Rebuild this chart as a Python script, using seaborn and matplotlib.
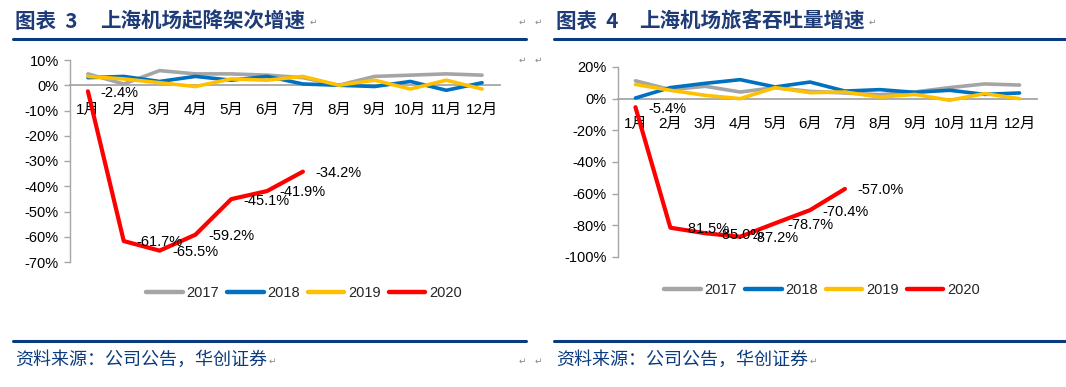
import matplotlib
matplotlib.use("Agg")
import matplotlib.pyplot as plt
from matplotlib.lines import Line2D
import seaborn as sns
import pandas as pd

sns.set_theme(style="white")
plt.rcParams['font.family'] = ['Liberation Sans', 'Noto Sans CJK SC', 'DejaVu Sans']

# 数据
months = ["1月", "2月", "3月", "4月", "5月", "6月", "7月", "8月", "9月", "10月", "11月", "12月"]
years = ["2017", "2018", "2019", "2020"]

# 图表3 起降架次增速 (%)
mov_2017 = [4.5, 0.5, 5.8, 4.5, 4.5, 4.0, 3.0, 0.0, 3.5, 4.0, 4.5, 4.0]
mov_2018 = [3.0, 3.5, 1.5, 3.5, 2.0, 3.5, 0.5, 0.0, -0.5, 1.5, -2.0, 1.0]
mov_2019 = [3.5, 2.5, 1.0, -0.5, 2.5, 2.0, 3.5, 0.0, 2.0, -1.5, 2.0, -1.5]
mov_2020 = [-2.4, -61.7, -65.5, -59.2, -45.1, -41.9, -34.2]

# 图表4 旅客吞吐量增速 (%)
pax_2017 = [11.3, 5.7, 7.8, 4.2, 7.0, 4.6, 3.6, 2.5, 4.2, 7.0, 9.3, 8.6]
pax_2018 = [0.4, 7.0, 9.7, 12.0, 7.4, 10.5, 4.8, 5.7, 4.0, 5.3, 2.7, 3.6]
pax_2019 = [9.0, 5.3, 2.1, 0.0, 7.0, 3.8, 4.2, 1.0, 2.7, -1.0, 3.2, 0.0]
pax_2020 = [-5.4, -81.5, -85.0, -87.2, -78.7, -70.4, -57.0]

colors = {"2017": "#A5A5A5", "2018": "#0070C0", "2019": "#FFC000", "2020": "#FF0000"}
navy = "#0B3B7F"
W, H = 1066, 387

fig = plt.figure(figsize=(W / 100, H / 100), dpi=100)


def fx(px):
    return px / W


def fy(py):
    return 1 - py / H


def draw_panel(ax, series, yticks):
    for yr, vals in zip(years, series):
        df = pd.DataFrame({"m": list(range(len(vals))), "v": vals})
        lw = 3.0 if yr == "2020" else 2.6
        sns.lineplot(data=df, x="m", y="v", ax=ax, color=colors[yr], linewidth=lw,
                     zorder=5 if yr == "2020" else 3, sort=False)
    # 2020 数据标签
    last = series[-1]
    for i, v in enumerate(last):
        ax.annotate(f"{v:.1f}%", (i, v), xytext=(9, -1), textcoords="offset points",
                    ha="left", va="center", fontsize=10.5, color="black", zorder=6)
    ax.set_xlim(-0.5, 11.5)
    ax.set_ylim(yticks[0], yticks[-1])
    ax.set_yticks(yticks)
    ax.set_yticklabels([f"{t}%" for t in yticks], fontsize=10.5)
    ax.set_xticks(range(12))
    ax.set_xticklabels(months, fontsize=10.5)
    ax.set_xlabel("")
    ax.set_ylabel("")
    for s in ["top", "right"]:
        ax.spines[s].set_visible(False)
    ax.spines["bottom"].set_position(("data", 0))
    ax.spines["bottom"].set_color("#A6A6A6")
    ax.spines["bottom"].set_linewidth(1.3)
    ax.spines["bottom"].set_zorder(2)
    ax.spines["left"].set_color("#A6A6A6")
    ax.spines["left"].set_linewidth(1.0)
    ax.tick_params(axis="x", length=0, pad=13, colors="black")
    ax.tick_params(axis="y", direction="out", length=4, width=1, color="#A6A6A6",
                   pad=4, left=True, labelcolor="black")
    ax.grid(False)
    ax.set_facecolor("none")


ax1 = fig.add_axes([fx(70), fy(262), fx(430), (262 - 60) / H])
draw_panel(ax1, [mov_2017, mov_2018, mov_2019, mov_2020], list(range(-70, 11, 10)))

ax2 = fig.add_axes([fx(618), fy(257), fx(419), (257 - 67) / H])
draw_panel(ax2, [pax_2017, pax_2018, pax_2019, pax_2020], list(range(-100, 21, 20)))

# 图例
handles = [Line2D([0], [0], color=colors[y], lw=3.2, solid_capstyle="round") for y in years]
for cx, cy in [(304, 293), (822, 290)]:
    fig.legend(handles, years, loc="center", bbox_to_anchor=(fx(cx), fy(cy)), ncol=4,
               frameon=False, fontsize=10.5, handlelength=2.5, handletextpad=0.25,
               columnspacing=0.55, borderaxespad=0, borderpad=0)

# 标题
title_kw = dict(fontsize=14.8, fontweight="bold", color="#1F3C78", va="center",
                family=["Noto Sans CJK SC", "DejaVu Sans"])
fig.text(fx(15), fy(21), "图表  3", **title_kw)
fig.text(fx(100), fy(21), "上海机场起降架次增速", **title_kw)
fig.text(fx(556), fy(21), "图表  4", **title_kw)
fig.text(fx(639), fy(21), "上海机场旅客吞吐量增速", **title_kw)

# 分隔线
for x0, x1 in [(13, 526), (554, 1066)]:
    for yy in (39, 341):
        fig.add_artist(Line2D([fx(x0), fx(x1)], [fy(yy), fy(yy)], color=navy, lw=2.2))

# 资料来源
src_kw = dict(fontsize=13, color=navy, va="center", family=["Noto Sans CJK SC", "DejaVu Sans"])
fig.text(fx(15), fy(360), "资料来源：公司公告，华创证券", **src_kw)
fig.text(fx(556), fy(360), "资料来源：公司公告，华创证券", **src_kw)

# 段落标记
mark_kw = dict(fontsize=6.5, color="#888888", va="center", ha="center", family=["DejaVu Sans"])
for px, py in [(313, 22), (522, 22), (538, 22), (872, 22), (522, 60), (538, 60),
               (272, 361), (522, 361), (538, 361), (813, 361)]:
    fig.text(fx(px), fy(py), "\u21b5", **mark_kw)

fig.savefig("out.png", dpi=100)
